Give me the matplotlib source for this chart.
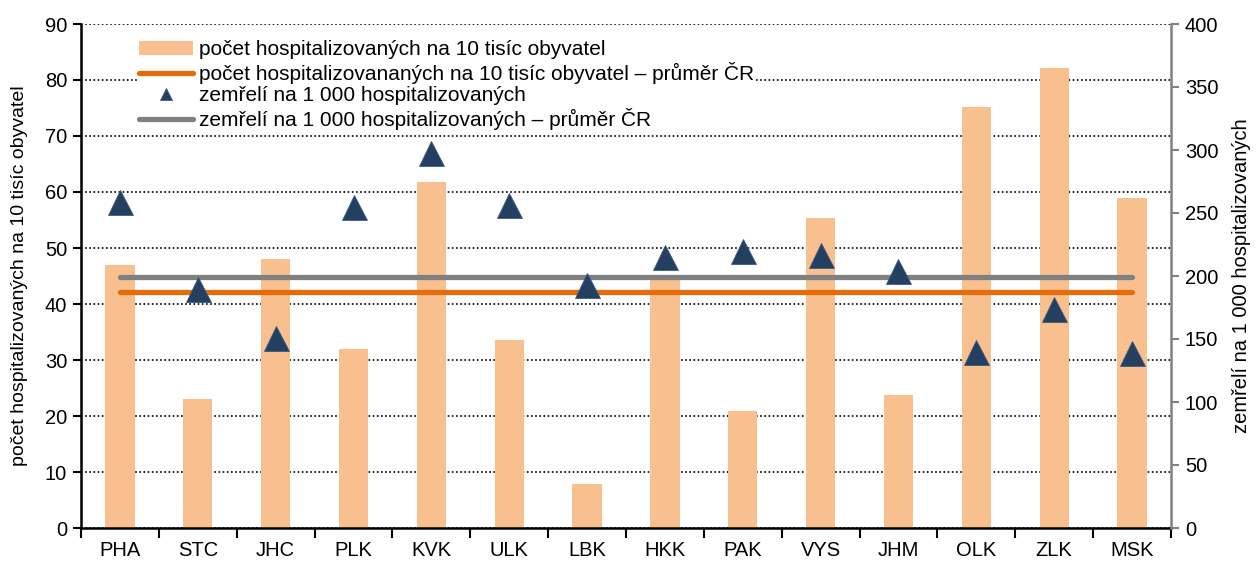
import matplotlib.pyplot as plt
import numpy as np

plt.rcParams['font.family'] = ['Liberation Sans', 'DejaVu Sans']

kraje = ["PHA", "STC", "JHC", "PLK", "KVK", "ULK", "LBK", "HKK", "PAK", "VYS", "JHM", "OLK", "ZLK", "MSK"]
hospitalizovani = [47.0, 23.1, 48.0, 31.9, 61.7, 33.6, 7.9, 44.8, 20.9, 55.4, 23.8, 75.1, 82.1, 58.9]
zemreli = [259, 190, 151, 255, 298, 256, 193, 215, 220, 217, 204, 140, 174, 139]
prumer_hosp = 42.2
prumer_zemreli = 199

c_bar = '#F9C08F'
c_orange = '#E46C0A'
c_grey = '#808080'
c_tri = '#243F60'

fig = plt.figure(figsize=(12.58, 5.63), dpi=100)
ax1 = fig.add_axes([81/1258, 1 - 528/563, 1090/1258, 504/563])
ax2 = ax1.twinx()

x = np.arange(len(kraje))

# sloupce + prumer na leve ose
b = ax1.bar(x, hospitalizovani, width=0.375, color=c_bar, zorder=2,
	label="počet hospitalizovaných na 10 tisíc obyvatel")
l1, = ax1.plot([x[0], x[-1]], [prumer_hosp]*2, color=c_orange, lw=3.8, solid_capstyle='round', zorder=3,
	label="počet hospitalizovananých na 10 tisíc obyvatel – průměr ČR")

# prava osa
l2, = ax2.plot([x[0], x[-1]], [prumer_zemreli]*2, color=c_grey, lw=3.8, solid_capstyle='round', zorder=2,
	label="zemřelí na 1 000 hospitalizovaných – průměr ČR")
t, = ax2.plot(x, zemreli, linestyle='none', marker='^', markersize=18, color=c_tri,
	markeredgecolor='#3B5A80', markeredgewidth=0.6, zorder=4, label="zemřelí na 1 000 hospitalizovaných")

ax1.set_xlim(-0.5, len(kraje) - 0.5)
ax1.set_ylim(0, 90)
ax1.set_yticks(range(0, 91, 10))
ax2.set_ylim(0, 400)
ax2.set_yticks(range(0, 401, 50))

ax1.set_axisbelow(True)
ax1.yaxis.grid(True, color='black', linestyle=(0, (1, 1.5)), linewidth=1.2)
ax1.set_xticks(x)
ax1.set_xticklabels(kraje)
ax1.set_xticks(np.arange(-0.5, len(kraje), 1), minor=True)
ax1.tick_params(axis='x', which='major', length=0, pad=9, labelsize=14.5)
ax1.tick_params(axis='x', which='minor', length=7, width=1.5, direction='out')
ax1.tick_params(axis='y', length=6, width=1.5, labelsize=14.5, pad=4)
ax2.tick_params(axis='y', length=6, width=1.5, color=c_grey, labelsize=14.5, pad=4)

for ax in (ax1, ax2):
	ax.spines['top'].set_visible(False)
ax1.spines['left'].set_linewidth(1.8)
ax1.spines['bottom'].set_linewidth(1.8)
ax2.spines['left'].set_visible(False)
ax2.spines['bottom'].set_visible(False)
ax2.spines['right'].set_color(c_grey)
ax2.spines['right'].set_linewidth(1.8)
ax1.spines['right'].set_visible(False)

ax1.set_ylabel("počet hospitalizovaných na 10 tisíc obyvatel", fontsize=14)
ax1.yaxis.set_label_coords(-0.049, 0.5)
ax2.set_ylabel("zemřelí na 1 000 hospitalizovaných", fontsize=14.5)
ax2.yaxis.set_label_coords(1.056, 0.5)

leg = ax2.legend(handles=[b, l1, t, l2], loc='upper left', bbox_to_anchor=(0.043, 0.99),
	fontsize=15, frameon=True, facecolor='white', edgecolor='none', framealpha=1,
	handlelength=2.6, handletextpad=0.25, labelspacing=0.12, borderpad=0.05, markerscale=0.45)

fig.savefig("out.png", dpi=100)
